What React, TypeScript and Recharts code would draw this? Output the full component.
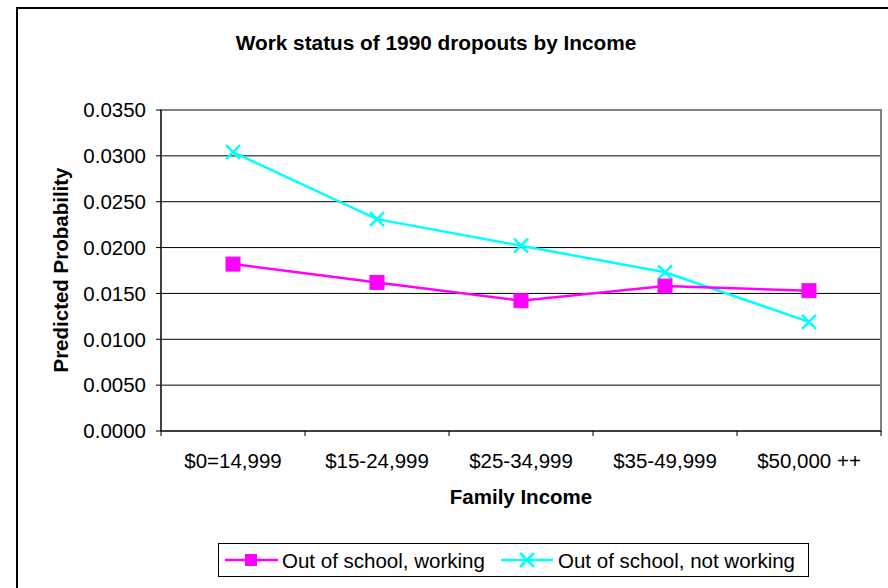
import React from 'react';
import { LineChart, Line, XAxis, YAxis, CartesianGrid, ReferenceArea } from 'recharts';

const categories = ['$0=14,999', '$15-24,999', '$25-34,999', '$35-49,999', '$50,000 ++'];
const working = [0.0182, 0.0162, 0.0142, 0.0158, 0.0153];
const notWorking = [0.0304, 0.0231, 0.0202, 0.0173, 0.0119];
const yTicks = [0, 0.005, 0.01, 0.015, 0.02, 0.025, 0.03, 0.035];
const seriesNames = ['Out of school, working', 'Out of school, not working'];
const title = 'Work status of 1990 dropouts by Income';
const xTitle = 'Family Income';
const yTitle = 'Predicted Probability';

const data = categories.map((c, i) => ({
  pos: i + 0.5,
  name: c,
  working: working[i],
  notWorking: notWorking[i],
}));
const xTicks = Array.from({ length: categories.length * 2 + 1 }, (_, k) => k / 2);

const FONT = '"Liberation Sans", Arial, sans-serif';
const PINK = '#FF00FF';
const CYAN = '#00FFFF';
const TICK_SIZE = 5;
const X_TICK_MARGIN = 17;

const XTick = (props: any) => {
  const { x, y, payload } = props;
  const v = payload.value;
  if (Number.isInteger(v)) {
    const y0 = y - X_TICK_MARGIN - TICK_SIZE;
    return <line x1={x} x2={x} y1={y0} y2={y0 + TICK_SIZE} stroke="#000" strokeWidth={1} />;
  }
  const label = categories[Math.floor(v)];
  return (
    <text x={x} y={y} dy="0.71em" textAnchor="middle" fontSize={20.5} fontFamily={FONT} fill="#000">
      {label}
    </text>
  );
};

const SquareDot = (props: any) => {
  const { cx, cy } = props;
  if (cx == null || cy == null) return null;
  const s = 14;
  return <rect x={cx - s / 2} y={cy - s / 2} width={s} height={s} fill={PINK} stroke={PINK} strokeWidth={1} />;
};

const CrossDot = (props: any) => {
  const { cx, cy } = props;
  if (cx == null || cy == null) return null;
  const h = 7;
  return (
    <g stroke={CYAN} strokeWidth={2.5}>
      <line x1={cx - h} y1={cy - h} x2={cx + h} y2={cy + h} />
      <line x1={cx - h} y1={cy + h} x2={cx + h} y2={cy - h} />
    </g>
  );
};

export default function App() {
  return (
    <div
      style={{
        position: 'absolute',
        left: 0,
        top: 0,
        width: 888,
        height: 588,
        overflow: 'hidden',
        background: '#fff',
      }}
    >
      <div
        style={{
          position: 'absolute',
          left: 16,
          top: 7,
          width: 1000,
          height: 1000,
          border: '2px solid #000',
        }}
      />
      <div style={{ position: 'absolute', left: 0, top: 0 }}>
        <LineChart
          width={888}
          height={588}
          data={data}
          margin={{ top: 110, right: 7, bottom: 97, left: 17 }}
        >
          <CartesianGrid horizontal vertical={false} stroke="#000" strokeWidth={1} />
          <ReferenceArea
            x1={0}
            x2={5}
            y1={0}
            y2={0.035}
            fill="none"
            stroke="#808080"
            strokeWidth={2}
            ifOverflow="visible"
          />
          <XAxis
            type="number"
            dataKey="pos"
            domain={[0, 5]}
            ticks={xTicks}
            interval={0}
            tickLine={false}
            tickSize={TICK_SIZE}
            tickMargin={X_TICK_MARGIN}
            tick={<XTick />}
            axisLine={{ stroke: '#000', strokeWidth: 1 }}
            height={60}
          />
          <YAxis
            type="number"
            domain={[0, 0.035]}
            ticks={yTicks}
            interval={0}
            width={144}
            tickSize={TICK_SIZE}
            tickMargin={10}
            tickLine={{ stroke: '#000' }}
            axisLine={{ stroke: '#000', strokeWidth: 1 }}
            tickFormatter={(v: number) => v.toFixed(4)}
            tick={{ fill: '#000', fontSize: 20.5, fontFamily: FONT }}
          />
          <Line
            type="linear"
            dataKey="notWorking"
            name={seriesNames[1]}
            stroke={CYAN}
            strokeWidth={2.5}
            dot={<CrossDot />}
            isAnimationActive={false}
          />
          <Line
            type="linear"
            dataKey="working"
            name={seriesNames[0]}
            stroke={PINK}
            strokeWidth={2.5}
            dot={<SquareDot />}
            isAnimationActive={false}
          />
        </LineChart>
      </div>
      <svg
        width={888}
        height={588}
        style={{ position: 'absolute', left: 0, top: 0, pointerEvents: 'none' }}
        fontFamily={FONT}
      >
        <text x={436} y={42} textAnchor="middle" dominantBaseline="central" fontSize={20.8} fontWeight="bold" fill="#000">
          {title}
        </text>
        <text
          transform="translate(60,270) rotate(-90)"
          textAnchor="middle"
          dominantBaseline="central"
          fontSize={20.5}
          fontWeight="bold"
          fill="#000"
        >
          {yTitle}
        </text>
        <text x={521} y={496} textAnchor="middle" dominantBaseline="central" fontSize={20.5} fontWeight="bold" fill="#000">
          {xTitle}
        </text>
        <rect x={218.5} y={543.5} width={590} height={33} fill="#fff" stroke="#000" strokeWidth={1} />
        <line x1={225} x2={278} y1={560} y2={560} stroke={PINK} strokeWidth={2.5} />
        <rect x={245} y={554} width={12} height={12} fill={PINK} />
        <text x={282} y={560} dominantBaseline="central" fontSize={20.5} fill="#000">
          {seriesNames[0]}
        </text>
        <line x1={501} x2={553} y1={560} y2={560} stroke={CYAN} strokeWidth={2.5} />
        <g stroke={CYAN} strokeWidth={2.5}>
          <line x1={520} y1={553} x2={534} y2={567} />
          <line x1={520} y1={567} x2={534} y2={553} />
        </g>
        <text x={558} y={560} dominantBaseline="central" fontSize={20.5} fill="#000">
          {seriesNames[1]}
        </text>
      </svg>
    </div>
  );
}
